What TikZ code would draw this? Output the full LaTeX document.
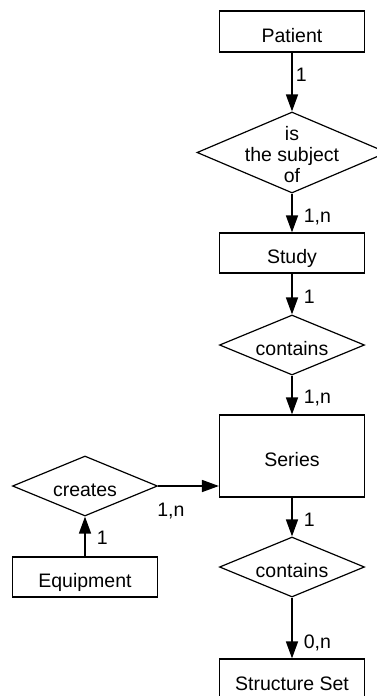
\documentclass[tikz,border=0pt]{standalone}
\usepackage{fontspec}
\setmainfont{Liberation Sans}
\usetikzlibrary{shapes.geometric, arrows.meta}
\begin{document}
\begin{tikzpicture}[x=1pt, y=1pt, font=\fontsize{19.5}{21}\selectfont]
        \tikzstyle{entity}=[rectangle, draw, line width=1.2pt, minimum width=145pt, minimum height=41pt, text height=21pt, text depth=0pt]
        \tikzstyle{relation}=[diamond, aspect=2.4, draw, line width=1.2pt, inner sep=0pt, minimum width=145pt, minimum height=60pt, text height=21pt, text depth=0pt]
        \tikzstyle{link}=[-{Triangle[length=17pt, width=12pt]}, line width=1.6pt]
        \tikzstyle{card}=[inner sep=0pt, anchor=west, xshift=11pt]
        \useasboundingbox (0, 0) rectangle (377, -696);

        \node[entity] (patient) at (292, -31.5) {Patient};
        \node[relation, minimum width=190pt, minimum height=81pt, label={[align=center, yshift=-2pt]center:is\\the subject\\of}] (subject) at (292, -152.5) {};
        \node[entity, minimum height=40pt] (study) at (292, -253) {Study};
        \node[relation] (contains-study) at (292, -345) {contains};
        \node[entity, minimum height=82pt] (series) at (292, -456) {Series};
        \node[relation] (creates) at (85, -486) {creates};
        \node[entity, minimum height=40pt] (equipment) at (85, -577) {Equipment};
        \node[relation] (contains-series) at (292, -567) {contains};
        \node[entity] (structure-set) at (292, -679.5) {Structure Set};

        \draw[link] (patient) -- node[card, pos=0.38, xshift=-8pt]{1} (subject);
        \draw[link] (subject) -- node[card, pos=0.6]{1,n} (study);
        \draw[link] (study) -- node[card, pos=0.57]{1} (contains-study);
        \draw[link] (contains-study) -- node[card, pos=0.57]{1,n} (series);
        \draw[link] (series) -- node[card, pos=0.57]{1} (contains-series);
        \draw[link] (contains-series) -- node[card, pos=0.74]{0,n} (structure-set);
        \draw[link] (creates) -- node[pos=0.21, below=13pt]{1,n} (creates -| series.west);
        \draw[link] (equipment) -- node[card, pos=0.46]{1} (creates);
    \end{tikzpicture}
\end{document}
